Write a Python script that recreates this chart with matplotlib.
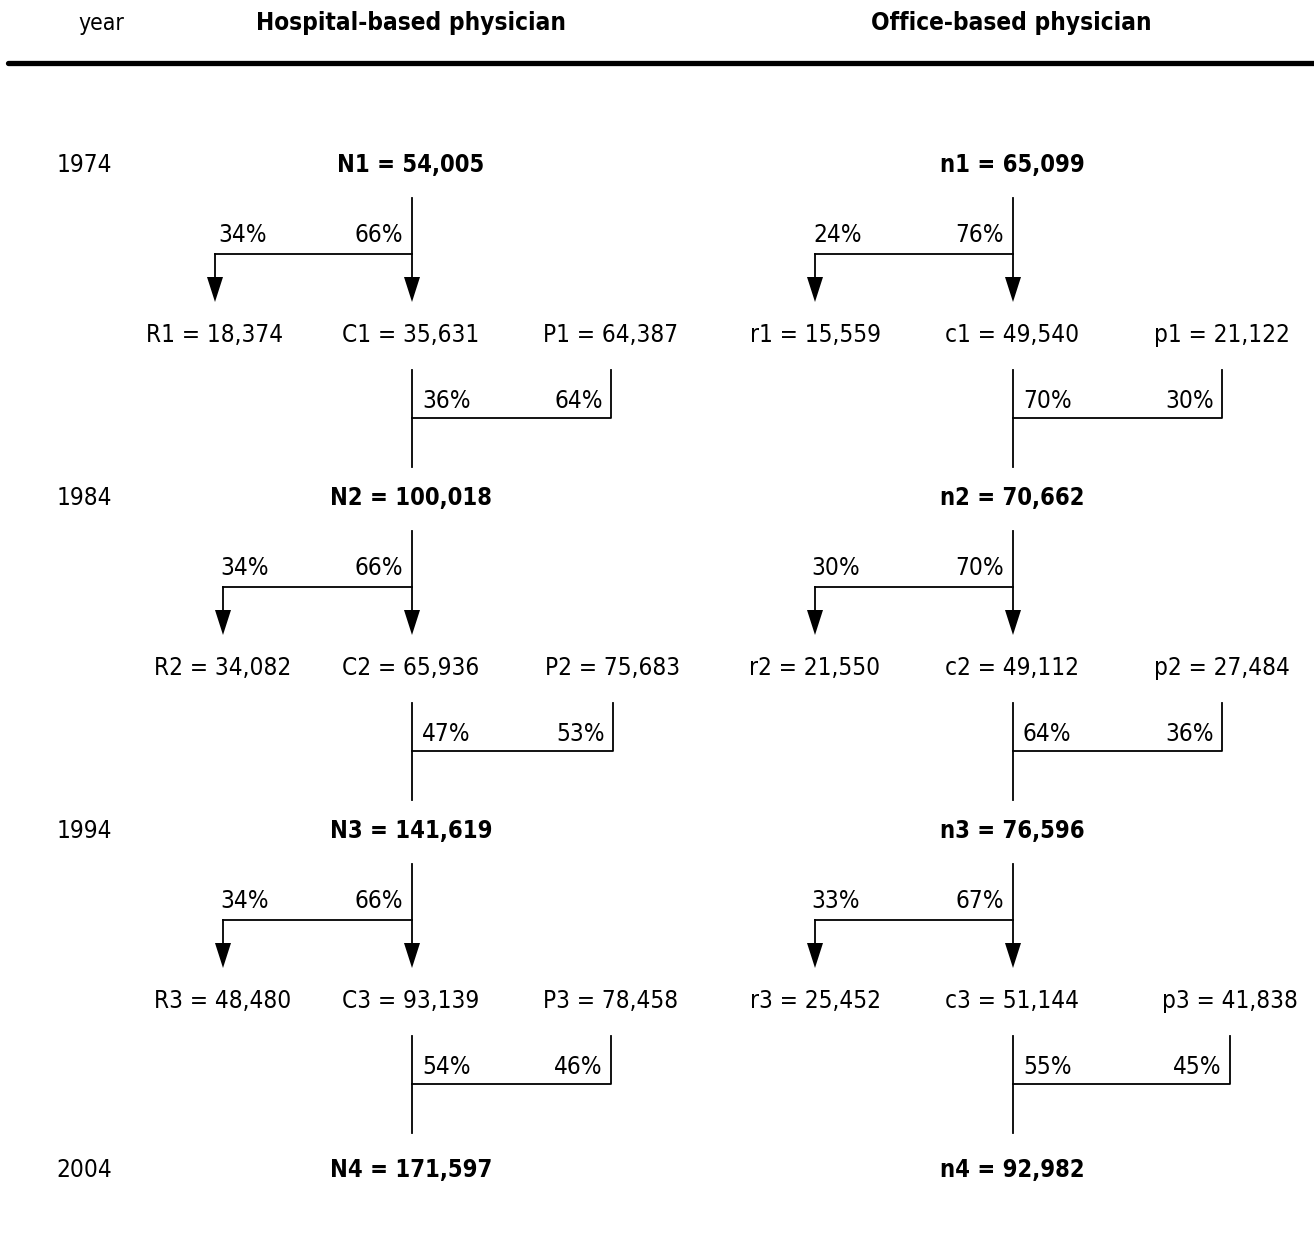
import matplotlib
matplotlib.use("Agg")
import matplotlib.pyplot as plt

plt.rcParams['font.family'] = ['DejaVu Sans']
plt.rcParams['font.stretch'] = 'condensed'

years = ['1974', '1984', '1994', '2004']

# hospital-based physicians
hosp_N = [54005, 100018, 141619, 171597]
hosp_R = [18374, 34082, 48480]
hosp_C = [35631, 65936, 93139]
hosp_P = [64387, 75683, 78458]
hosp_split_rc = [(34, 66), (34, 66), (34, 66)]
hosp_split_cp = [(36, 64), (47, 53), (54, 46)]

# office-based physicians
off_n = [65099, 70662, 76596, 92982]
off_r = [15559, 21550, 25452]
off_c = [49540, 49112, 51144]
off_p = [21122, 27484, 41838]
off_split_rc = [(24, 76), (30, 70), (33, 67)]
off_split_cp = [(70, 30), (64, 36), (55, 45)]

# layout (pixels)
W, H = 1314, 1243
row_y = [165, 498, 831, 1170]
fs = 17.5
fs_bold = 17
lw = 1.3

fig = plt.figure(figsize=(W / 100, H / 100), dpi=100)
ax = fig.add_axes([0, 0, 1, 1])
ax.set_xlim(0, W)
ax.set_ylim(H, 0)
ax.axis('off')

# header
ax.text(101, 23, 'year', fontsize=fs - 1, ha='center', va='center')
ax.text(411, 23, 'Hospital-based physician', fontsize=fs, ha='center', va='center', fontweight='bold')
ax.text(1011, 23, 'Office-based physician', fontsize=fs, ha='center', va='center', fontweight='bold')
ax.plot([8, W], [63, 63], color='black', lw=3.8, solid_capstyle='round')

for yr, y in zip(years, row_y):
    ax.text(84, y, yr, fontsize=fs, ha='center', va='center')


def arrow_head(x, tip):
    ax.fill([x - 8, x + 8, x], [tip - 25, tip - 25, tip], color='black', lw=0)


def column(cx, tops, r_vals, c_vals, p_vals, rc, cp, letters, left_x, right_x, lpct_x):
    big, r_l, c_l, p_l = letters
    for i, v in enumerate(tops):
        ax.text(cx - 1, row_y[i], f'{big}{i + 1} = {v:,}', fontsize=fs_bold, ha='center',
                va='center', fontweight='bold')
    for i in range(3):
        y0 = row_y[i]
        hy = y0 + 89
        tip = y0 + 137
        ly = y0 + 170
        # split into retire / continue
        ax.plot([cx, cx], [y0 + 33, tip - 20], color='black', lw=lw)
        ax.plot([left_x[i], cx], [hy, hy], color='black', lw=lw)
        ax.plot([left_x[i], left_x[i]], [hy, tip - 20], color='black', lw=lw)
        arrow_head(cx, tip)
        arrow_head(left_x[i], tip)
        ax.text(lpct_x[i], hy - 19, f'{rc[i][0]}%', fontsize=fs, ha='center', va='center')
        ax.text(cx - 9, hy - 19, f'{rc[i][1]}%', fontsize=fs, ha='right', va='center')
        # node labels
        ax.text(left_x[i], ly, f'{r_l}{i + 1} = {r_vals[i]:,}', fontsize=fs, ha='center', va='center')
        ax.text(cx - 1, ly, f'{c_l}{i + 1} = {c_vals[i]:,}', fontsize=fs, ha='center', va='center')
        ax.text(right_x[i], ly, f'{p_l}{i + 1} = {p_vals[i]:,}', fontsize=fs, ha='center', va='center')
        # merge continuing + new into next year
        bs = y0 + 205
        bh = y0 + 253
        be = y0 + 302
        ax.plot([cx, cx], [bs, be], color='black', lw=lw)
        ax.plot([cx, right_x[i], right_x[i]], [bh, bh, bs], color='black', lw=lw)
        ax.text(cx + 10, bh - 17, f'{cp[i][0]}%', fontsize=fs, ha='left', va='center')
        ax.text(right_x[i] - 8, bh - 17, f'{cp[i][1]}%', fontsize=fs, ha='right', va='center')


column(412, hosp_N, hosp_R, hosp_C, hosp_P, hosp_split_rc, hosp_split_cp,
       ('N', 'R', 'C', 'P'), [215, 223, 223], [611, 613, 611], [243, 245, 245])
column(1013, off_n, off_r, off_c, off_p, off_split_rc, off_split_cp,
       ('n', 'r', 'c', 'p'), [815, 815, 815], [1222, 1222, 1230], [838, 836, 836])

fig.savefig('out.png', dpi=100, facecolor='white')
